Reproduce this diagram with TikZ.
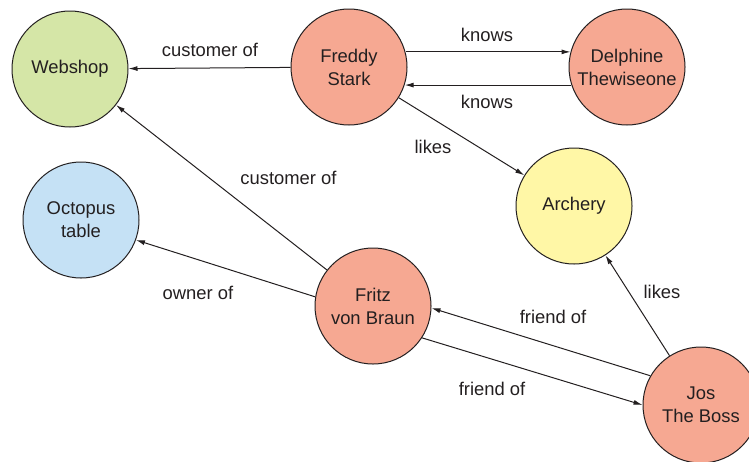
\documentclass[tikz,border=0pt]{standalone}
\usepackage{fontspec}
\setmainfont{Liberation Sans}
\usetikzlibrary{arrows.meta}
\definecolor{ink}{HTML}{231F20}
\definecolor{cgreen}{HTML}{D5E6A7}
\definecolor{csalmon}{HTML}{F6A892}
\definecolor{cyellow}{HTML}{FFF7A6}
\definecolor{cblue}{HTML}{C5E1F5}
\tikzset{
  ent/.style={circle, draw=ink, line width=1pt, minimum size=116pt, inner sep=0pt,
    align=center, text=ink, font=\fontsize{18.4}{23}\selectfont},
  rel/.style={draw=ink, line width=1pt, -{Latex[length=9pt,width=5pt]}},
  lbl/.style={text=ink, font=\fontsize{18.4}{22}\selectfont, inner sep=0pt}
}
\begin{document}
\begin{tikzpicture}[x=1pt,y=-1pt]
\useasboundingbox (0,0) rectangle (749,461);
\clip (0,0) rectangle (749,461);
\node[ent, fill=cgreen] (web) at (70,69) {Webshop};
\node[ent, fill=csalmon] (fred) at (349,67) {Freddy\\Stark};
\node[ent, fill=csalmon] (del) at (627,67) {Delphine\\Thewiseone};
\node[ent, fill=cyellow] (arch) at (574,206) {Archery};
\node[ent, fill=cblue] (oct) at (81,220) {Octopus\\table};
\node[ent, fill=csalmon] (fritz) at (373,306) {Fritz\\von Braun};
\node[ent, fill=csalmon] (jos) at (701,405) {Jos\\The Boss};

\draw[rel] (fred) -- (web);
\draw[rel] (fred.15) -- (del.165);
\draw[rel] (del.198) -- (fred.-18);
\draw[rel] (fred) -- (arch);
\draw[rel] (fritz) -- (web);
\draw[rel] (fritz.171) -- (oct.-20);
\draw[rel] (jos.150) -- (fritz.-2);
\draw[rel] (fritz.-33) -- (jos.180);
\draw[rel] (jos) -- (arch);

\node[lbl] (l1) at (210,50) {customer of};
\node[lbl] (l2) at (487,35) {knows};
\node[lbl] (l3) at (487,102) {knows};
\node[lbl] (l4) at (433,147) {likes};
\node[lbl] (l5) at (288.5,178) {customer of};
\node[lbl] (l6) at (198,293) {owner of};
\node[lbl] (l7) at (553,317) {friend of};
\node[lbl] (l8) at (492,389) {friend of};
\node[lbl] (l9) at (662,292) {likes};
\end{tikzpicture}
\end{document}
